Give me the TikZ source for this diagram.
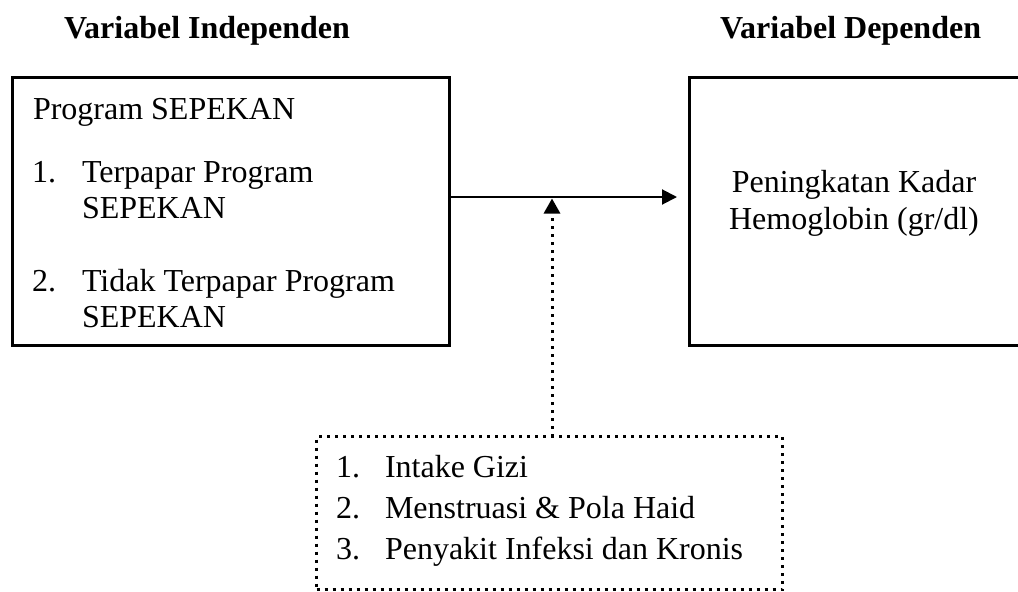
\documentclass[tikz,border=0pt]{standalone}
\usepackage{fontspec}
\setmainfont{Liberation Serif}
\usetikzlibrary{arrows.meta}
\begin{document}
\begin{tikzpicture}[x=1pt,y=-1pt,
  every node/.style={inner sep=0pt, outer sep=0pt},
  txt/.style={font=\fontsize{32}{37}\selectfont, anchor=base west},
  head/.style={font=\fontsize{32}{37}\selectfont\bfseries, anchor=base west},
  ctr/.style={font=\fontsize{32}{37}\selectfont, anchor=base},
  box/.style={draw, line width=3pt, rectangle},
  dotbox/.style={draw, line width=3pt, dash pattern=on 3pt off 5pt, rectangle},
  arr/.style={line width=2pt, -{Triangle[length=15pt,width=15pt]}},
  darr/.style={line width=3pt, dash pattern=on 3pt off 5pt, -{Triangle[length=15pt,width=16pt]}}]
\useasboundingbox (0,0) rectangle (1018,592);
% headers
\node[head] (h1) at (64,38) {Variabel Independen};
\node[head] (h2) at (720,38) {Variabel Dependen};
% boxes
\node[box, minimum width=437pt, minimum height=268pt] (lb) at (231,211.5) {};
\node[box, minimum width=332.5pt, minimum height=268pt] (rb) at (855.75,211.5) {};
\node[dotbox, minimum width=466pt, minimum height=153pt] (db) at (549.5,513) {};
% left box text
\node[txt] (l0) at (33,119) {Program SEPEKAN};
\node[txt] (l1n) at (32,182) {1.};
\node[txt] (l1a) at (82,182) {Terpapar Program};
\node[txt] (l1b) at (82,218) {SEPEKAN};
\node[txt] (l2n) at (32,291) {2.};
\node[txt] (l2a) at (82,291) {Tidak Terpapar Program};
\node[txt] (l2b) at (82,327) {SEPEKAN};
% right box text
\node[ctr] (r1) at (854,192) {Peningkatan Kadar};
\node[ctr] (r2) at (854,229) {Hemoglobin (gr/dl)};
% dotted box text
\node[txt] (d1n) at (336,477) {1.};
\node[txt] (d1) at (385,477) {Intake Gizi};
\node[txt] (d2n) at (336,518) {2.};
\node[txt] (d2) at (385,518) {Menstruasi \& Pola Haid};
\node[txt] (d3n) at (336,559) {3.};
\node[txt] (d3) at (385,559) {Penyakit Infeksi dan Kronis};
% connectors
\coordinate (hy) at (0,197);
\coordinate (vx) at (552,0);
\draw[arr, shorten >=12.5pt] (lb.east |- hy) -- (rb.west |- hy);
\draw[darr, shorten >=1.5pt] (db.north -| vx) -- (vx |- hy);
\end{tikzpicture}
\end{document}
